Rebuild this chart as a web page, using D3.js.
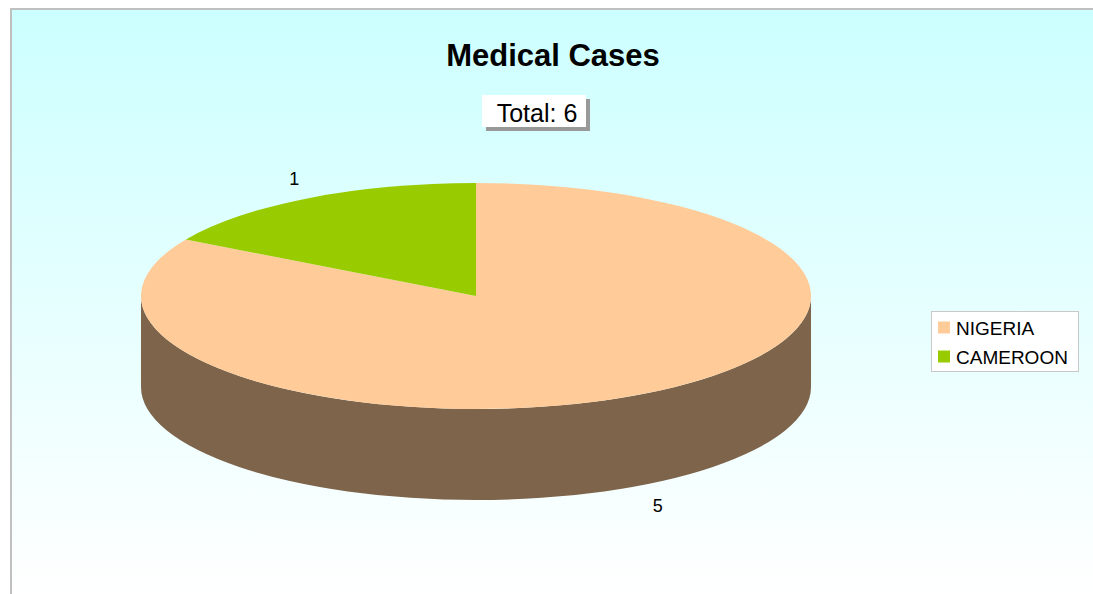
<!DOCTYPE html>
<html>
<head>
<meta charset="utf-8">
<script src="https://cdn.jsdelivr.net/npm/d3@7"></script>
<style>
  body { margin: 0; background: #fff; }
  text { font-family: "Liberation Sans", Arial, sans-serif; }
</style>
</head>
<body>
<script>
let countries = ["NIGERIA", "CAMEROON"];
let cases = [5, 1];
let sliceColors = ["#ffcc99", "#99cc00"];
let chartTitle = "Medical Cases";

let svgWidth = 1093;
let svgHeight = 594;

// pie geometry (ellipse + thickness)
let cx = 476, cy = 296;
let rx = 335, ry = 113;
let depth = 91;

let svg = d3.select('body')
  .append('svg')
  .attr('width', svgWidth)
  .attr('height', svgHeight);

let defs = svg.append('defs');
let grad = defs.append('linearGradient')
  .attr('id', 'bg')
  .attr('x1', 0).attr('y1', 0)
  .attr('x2', 0).attr('y2', 1);
grad.append('stop').attr('offset', '0%').attr('stop-color', '#ccffff');
grad.append('stop').attr('offset', '100%').attr('stop-color', '#ffffff');

// plot area background + border (top & left only)
svg.append('rect')
  .attr('x', 12).attr('y', 10)
  .attr('width', svgWidth - 12).attr('height', svgHeight - 10)
  .attr('fill', 'url(#bg)');
svg.append('path')
  .attr('d', `M11,${svgHeight} L11,9 L${svgWidth},9`)
  .attr('fill', 'none')
  .attr('stroke', '#c0c0c0')
  .attr('stroke-width', 2);

// title
svg.append('text')
  .attr('x', 553).attr('y', 66)
  .attr('text-anchor', 'middle')
  .style('font-size', '31px')
  .style('font-weight', 'bold')
  .text(chartTitle);

// total box
let total = d3.sum(cases);
svg.append('rect')
  .attr('x', 486).attr('y', 99)
  .attr('width', 104).attr('height', 32)
  .attr('fill', '#999999');
svg.append('rect')
  .attr('x', 482).attr('y', 95)
  .attr('width', 104).attr('height', 32)
  .attr('fill', '#ffffff');
svg.append('text')
  .attr('x', 537).attr('y', 122)
  .attr('text-anchor', 'middle')
  .style('font-size', '25px')
  .text(`Total: ${total}`);

// pie
let pie = d3.pie().sort(null).value(d => d.value);
let slices = pie(countries.map((c, i) => ({ name: c, value: cases[i], color: sliceColors[i] })));

let pt = (a, dy) => [cx + rx * Math.sin(a), cy - ry * Math.cos(a) + (dy || 0)];

// front walls
let sides = svg.append('g');
slices.forEach(s => {
  let a0 = Math.max(s.startAngle, Math.PI / 2);
  let a1 = Math.min(s.endAngle, 3 * Math.PI / 2);
  if (a1 <= a0) return;
  let p0 = pt(a0), p1 = pt(a1), q1 = pt(a1, depth), q0 = pt(a0, depth);
  let d = `M${p0} A${rx},${ry} 0 0 1 ${p1} L${q1} A${rx},${ry} 0 0 0 ${q0} Z`;
  sides.append('path')
    .attr('d', d)
    .attr('fill', d3.color(s.data.color).darker(2.0).formatHex());
});

// top faces
let arc = d3.arc().innerRadius(0).outerRadius(rx);
svg.append('g')
  .attr('transform', `translate(${cx}, ${cy}) scale(1, ${ry / rx})`)
  .selectAll('path')
  .data(slices)
  .enter()
  .append('path')
  .attr('d', arc)
  .attr('fill', d => d.data.color);

// value labels
svg.selectAll('.lbl')
  .data(slices)
  .enter()
  .append('text')
  .classed('lbl', true)
  .attr('x', d => {
    let a = (d.startAngle + d.endAngle) / 2;
    return cx + rx * 1.085 * Math.sin(a);
  })
  .attr('y', d => {
    let a = (d.startAngle + d.endAngle) / 2;
    let off = Math.cos(a) < 0 ? depth : 0;
    return cy + off - ry * 1.21 * Math.cos(a) + 7;
  })
  .attr('text-anchor', 'middle')
  .style('font-size', '18px')
  .text(d => d.data.value);

// legend
let legend = svg.append('g').attr('transform', 'translate(931.5, 311.5)');
legend.append('rect')
  .attr('width', 147).attr('height', 60)
  .attr('fill', '#ffffff')
  .attr('stroke', '#c8c8c8');
let items = legend.selectAll('.item')
  .data(countries)
  .enter()
  .append('g')
  .attr('transform', (d, i) => `translate(6.5, ${10 + i * 29})`);
items.append('rect')
  .attr('width', 12).attr('height', 12)
  .attr('fill', (d, i) => sliceColors[i]);
items.append('text')
  .attr('x', 18).attr('y', 13)
  .style('font-size', '19px')
  .text(d => d);
</script>
</body>
</html>
